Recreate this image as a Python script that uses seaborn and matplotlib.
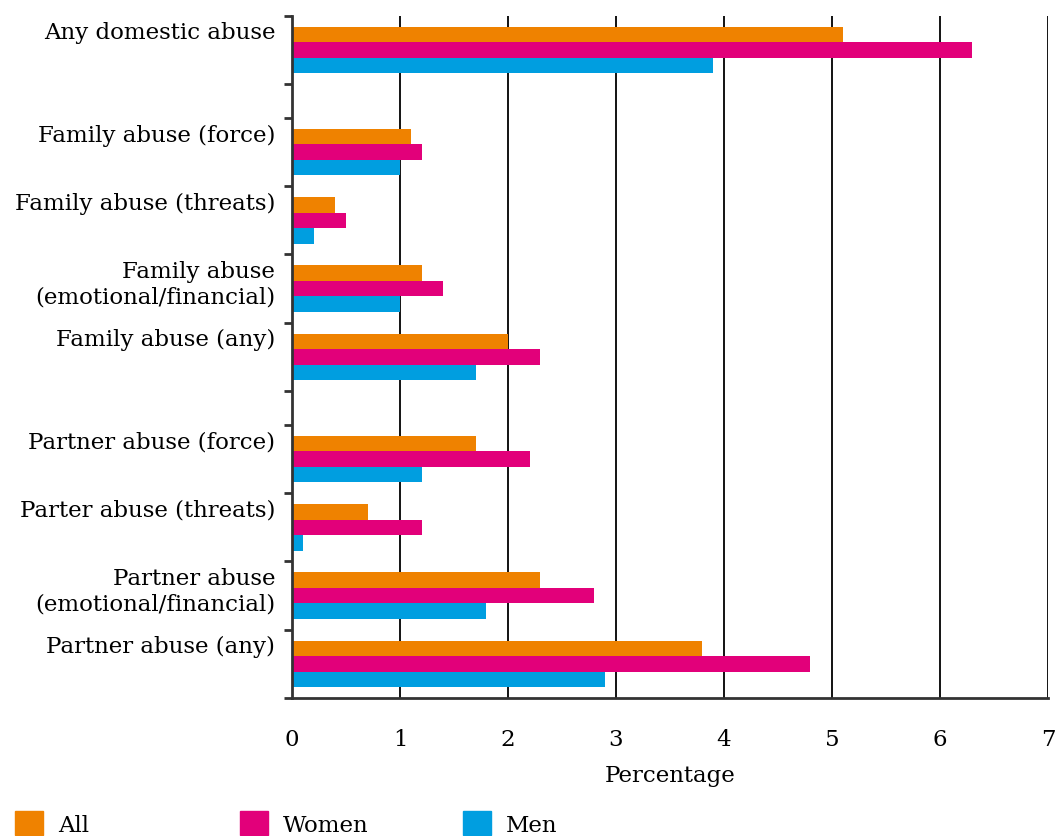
import numpy as np
import pandas as pd
import matplotlib.pyplot as plt
import seaborn as sns
from matplotlib.patches import Patch

# -----------------------------
# Data (percentages)
# -----------------------------
categories = [
    "Any domestic abuse",
    "Family abuse (force)",
    "Family abuse (threats)",
    "Family abuse\n(emotional/financial)",
    "Family abuse (any)",
    "Partner abuse (force)",
    "Parter abuse (threats)",
    "Partner abuse\n(emotional/financial)",
    "Partner abuse (any)",
]
section = [0, 1, 1, 1, 1, 2, 2, 2, 2]

all_vals = [5.1, 1.1, 0.4, 1.2, 2.0, 1.7, 0.7, 2.3, 3.8]
women_vals = [6.3, 1.2, 0.5, 1.4, 2.3, 2.2, 1.2, 2.8, 4.8]
men_vals = [3.9, 1.0, 0.2, 1.0, 1.7, 1.2, 0.1, 1.8, 2.9]

groups = ["All", "Women", "Men"]
colors = ["#EF8200", "#E2007A", "#009EE0"]

# -----------------------------
# Layout: half-slot gap between sections
# -----------------------------
gap = 0.5
pos = [i + 0.5 + gap * s for i, s in enumerate(section)]
edges = sorted(set([p - 0.5 for p in pos] + [p + 0.5 for p in pos]))

df = pd.DataFrame({
    "pos": np.tile(pos, 3),
    "value": all_vals + women_vals + men_vals,
    "group": np.repeat(groups, len(categories)),
})

sns.set_style("white")
plt.rcParams["font.family"] = ["DejaVu Serif"]
plt.rcParams["font.size"] = 16
plt.rcParams["text.color"] = "black"
plt.rcParams["axes.labelcolor"] = "black"
plt.rcParams["xtick.labelcolor"] = "black"
plt.rcParams["ytick.labelcolor"] = "black"

fig = plt.figure(figsize=(10.56, 8.37), dpi=100)
ax = fig.add_axes([0.2765, 0.165, 0.716, 0.815])

sns.barplot(
    data=df, x="value", y="pos", hue="group", hue_order=groups,
    palette=colors, orient="h", native_scale=True, width=0.68,
    saturation=1, linewidth=0, legend=False, ax=ax,
)

ax.set_xlim(0, 7)
ax.set_ylim(edges[-1], edges[0])

# vertical gridlines
ax.set_xticks(range(0, 8))
ax.grid(axis="x", color="black", linewidth=1.3)
ax.grid(axis="y", visible=False)
ax.set_axisbelow(True)
ax.tick_params(axis="x", length=8, width=1.3, color="black", pad=14, labelsize=16.5)

# y ticks at group edges, labels near the top of each slot
ax.set_yticks(edges)
ax.set_yticklabels([])
ax.tick_params(axis="y", which="major", length=6, width=2, color="#333333", left=True)
ax.set_yticks([p - 0.42 for p in pos], minor=True)
ax.set_yticklabels(categories, minor=True, va="top")
ax.tick_params(axis="y", which="minor", length=0, pad=12, labelsize=16.5)

for side in ["top", "right"]:
    ax.spines[side].set_visible(False)
for side in ["left", "bottom"]:
    ax.spines[side].set_color("#333333")
    ax.spines[side].set_linewidth(2)

ax.set_xlabel("Percentage", fontsize=16.5, labelpad=10)
ax.set_ylabel("")

# legend: three entries spaced along the bottom
for x0, g, c in zip([0.014, 0.227, 0.438], groups, colors):
    fig.legend(
        handles=[Patch(color=c)], labels=[g], loc="lower left",
        bbox_to_anchor=(x0, 0.0), frameon=False, fontsize=16.5,
        handlelength=1.25, handleheight=1.25, handletextpad=0.65,
        borderaxespad=0, borderpad=0,
    )

fig.savefig("out.png", dpi=100)
